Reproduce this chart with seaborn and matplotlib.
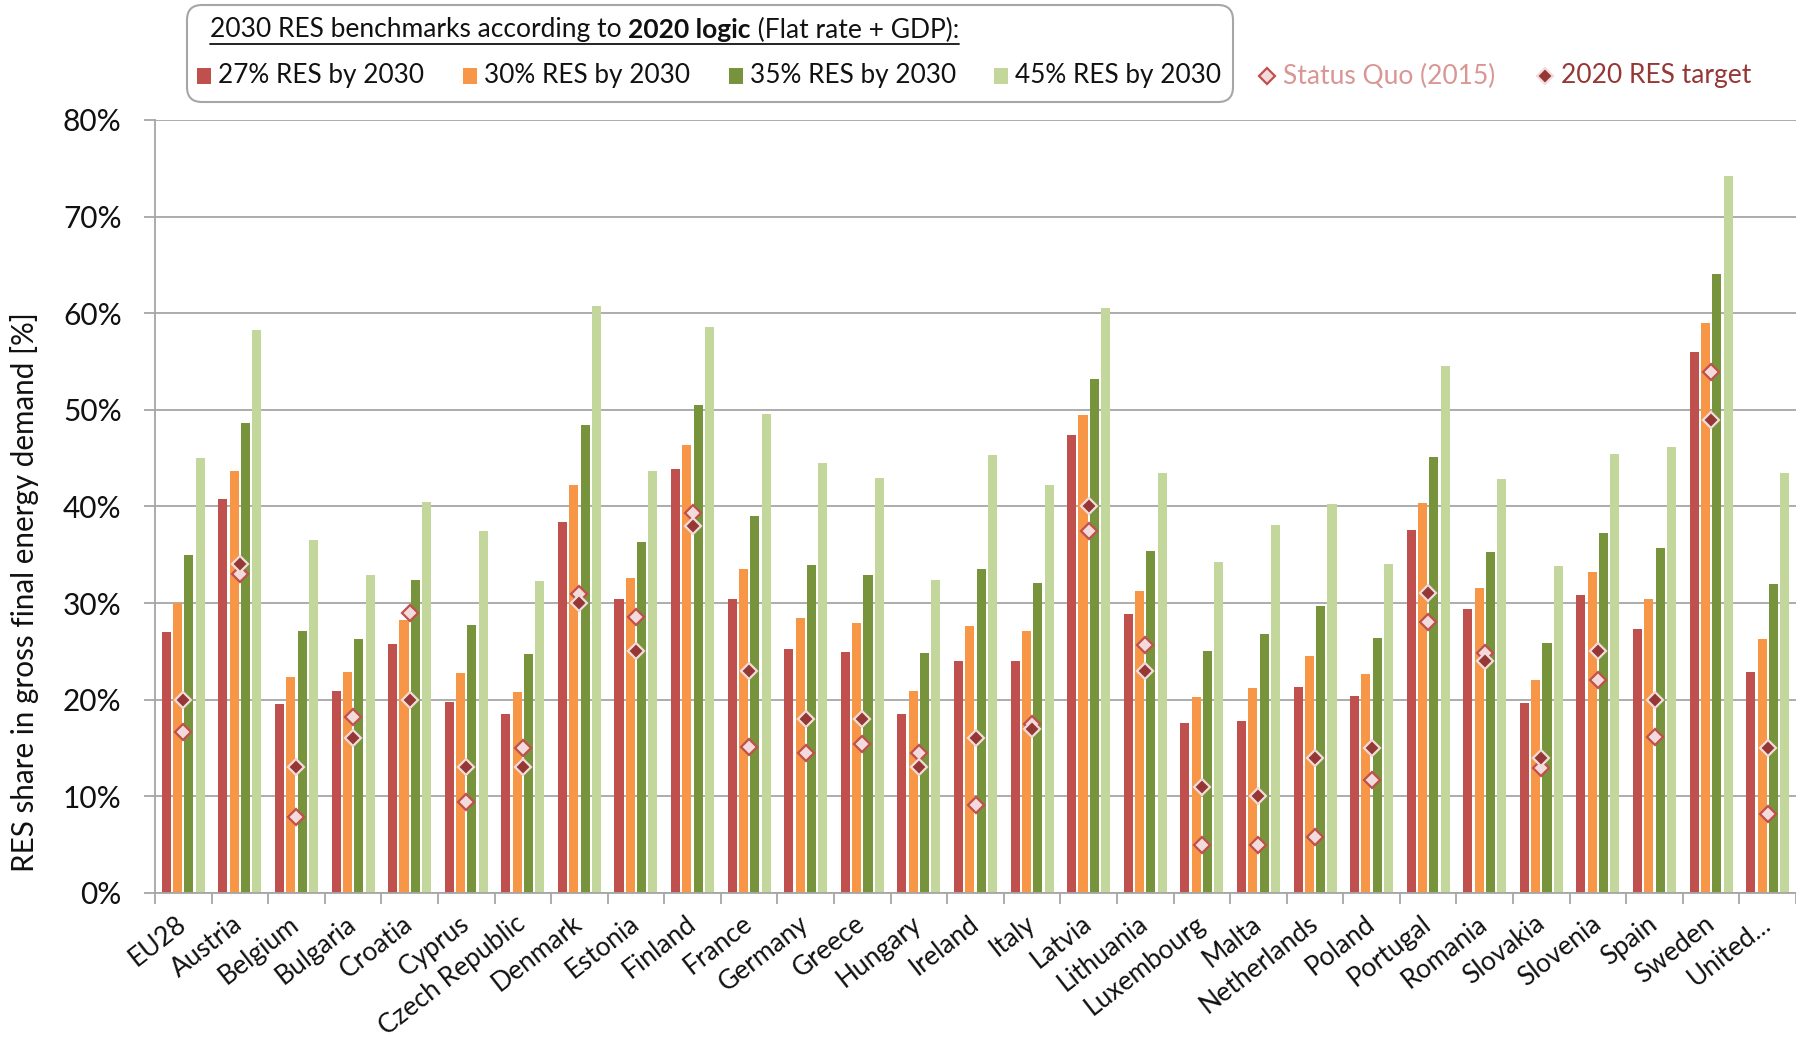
import numpy as np
import pandas as pd
import matplotlib
matplotlib.use("Agg")
import matplotlib.pyplot as plt
import seaborn as sns
from matplotlib.patches import FancyBboxPatch, Rectangle
from matplotlib.lines import Line2D

countries = ["EU28", "Austria", "Belgium", "Bulgaria", "Croatia", "Cyprus",
             "Czech Republic", "Denmark", "Estonia", "Finland", "France", "Germany",
             "Greece", "Hungary", "Ireland", "Italy", "Latvia", "Lithuania",
             "Luxembourg", "Malta", "Netherlands", "Poland", "Portugal", "Romania",
             "Slovakia", "Slovenia", "Spain", "Sweden", "United..."]

res27 = [27.0, 40.8, 19.6, 20.9, 25.8, 19.8, 18.5, 38.4, 30.4, 43.9, 30.4, 25.3, 24.9, 18.5,
         24.0, 24.0, 47.4, 28.9, 17.6, 17.8, 21.3, 20.4, 37.6, 29.4, 19.7, 30.8, 27.3, 56.0, 22.9]
res30 = [30.0, 43.7, 22.4, 22.9, 28.3, 22.8, 20.8, 42.2, 32.6, 46.4, 33.5, 28.5, 27.9, 20.9,
         27.6, 27.1, 49.5, 31.3, 20.3, 21.2, 24.5, 22.7, 40.4, 31.6, 22.0, 33.2, 30.4, 59.0, 26.3]
res35 = [35.0, 48.6, 27.1, 26.3, 32.4, 27.7, 24.7, 48.4, 36.3, 50.5, 39.0, 33.9, 32.9, 24.8,
         33.5, 32.1, 53.2, 35.4, 25.0, 26.8, 29.7, 26.4, 45.1, 35.3, 25.9, 37.3, 35.7, 64.1, 32.0]
res45 = [45.0, 58.3, 36.5, 32.9, 40.5, 37.5, 32.3, 60.8, 43.7, 58.6, 49.6, 44.5, 42.9, 32.4,
         45.3, 42.2, 60.5, 43.5, 34.3, 38.1, 40.3, 34.0, 54.5, 42.8, 33.8, 45.4, 46.2, 74.2, 43.5]
status_quo = [16.7, 33.0, 7.9, 18.2, 29.0, 9.4, 15.0, 30.9, 28.6, 39.3, 15.1, 14.5, 15.4, 14.5,
              9.1, 17.5, 37.5, 25.7, 5.0, 5.0, 5.8, 11.7, 28.0, 24.8, 12.9, 22.0, 16.1, 53.9, 8.2]
target_2020 = [20, 34, 13, 16, 20, 13, 13, 30, 25, 38, 23, 18, 18, 13, 16, 17, 40, 23, 11, 10,
               14, 15, 31, 24, 14, 25, 20, 49, 15]

scenarios = ["27% RES by 2030", "30% RES by 2030", "35% RES by 2030", "45% RES by 2030"]
bar_colors = ["#C0504D", "#F79646", "#77933C", "#C3D69B"]
yticks = [0, 10, 20, 30, 40, 50, 60, 70, 80]

sns.set_theme(style="white")
plt.rcParams['font.family'] = ['Lato', 'DejaVu Sans']

W, H = 1796, 1042
fig = plt.figure(figsize=(W / 100, H / 100), dpi=100)
ax = fig.add_axes([155 / W, 1 - 893 / H, 1 - 155 / W, (893 - 120) / H])

df = pd.DataFrame({"Country": countries, scenarios[0]: res27, scenarios[1]: res30,
                   scenarios[2]: res35, scenarios[3]: res45})
long = df.melt(id_vars="Country", var_name="Scenario", value_name="Value")

sns.barplot(data=long, x="Country", y="Value", hue="Scenario", hue_order=scenarios,
            order=countries, palette=bar_colors, saturation=1, width=0.8, gap=0.2,
            edgecolor="none", legend=False, ax=ax, zorder=2)

sns.pointplot(x=countries, y=status_quo, order=countries, ax=ax, linestyle="none",
              marker="D", color="#C0504D", markersize=8.5, markerfacecolor="#F2DCDB",
              markeredgecolor="#C0504D", markeredgewidth=1.6, errorbar=None, zorder=4)
sns.pointplot(x=countries, y=target_2020, order=countries, ax=ax, linestyle="none",
              marker="D", color="#953735", markersize=8.5, markerfacecolor="#953735",
              markeredgecolor="#F2DCDB", markeredgewidth=1.6, errorbar=None, zorder=5)

ax.set_xlim(-0.5, len(countries) - 0.5)
ax.set_ylim(0, 80)
ax.set_yticks(yticks)
ax.set_yticklabels([f"{v}%" for v in yticks], fontsize=21.5, color="#111111")
ax.yaxis.grid(True, color="#A6A6A6", linewidth=1.3, zorder=0)
ax.set_axisbelow(True)
for s in ["top", "right"]:
    ax.spines[s].set_visible(False)
for s in ["left", "bottom"]:
    ax.spines[s].set_color("#A6A6A6")
    ax.spines[s].set_linewidth(1.3)
ax.tick_params(axis="y", which="major", length=8, width=1.3, color="#A6A6A6", pad=16, left=True)

ax.set_xticks(range(len(countries)))
ax.set_xticklabels(countries, rotation=38, ha="right", va="center", rotation_mode="anchor",
                   fontsize=19, color="#111111")
ax.tick_params(axis="x", which="major", length=0, pad=20)
ax.set_xticks(np.arange(-0.5, len(countries), 1), minor=True)
ax.tick_params(axis="x", which="minor", length=8, width=1.3, color="#A6A6A6", bottom=True)

ax.set_xlabel("")
ax.set_ylabel("")
fig.text(25 / W, 1 - 592 / H, "RES share in gross final energy demand [%]", rotation=90,
         ha="center", va="center", fontsize=21.3, color="#111111")

# Legend box
box = FancyBboxPatch((1.87, (H - 102) / 100), 10.46, 0.97,
                     boxstyle="round,pad=0,rounding_size=0.15",
                     transform=fig.dpi_scale_trans, facecolor="white",
                     edgecolor="#A6A6A6", linewidth=1.5, zorder=10)
fig.add_artist(box)

renderer = fig.canvas.get_renderer()
parts = [("2030 RES benchmarks according to ", "normal"), ("2020 logic", "bold"),
         (" (Flat rate + GDP):", "normal")]
x = 210 / W
ty = 1 - 30 / H
for txt, wgt in parts:
    t = fig.text(x, ty, txt, fontsize=19, fontweight=wgt, ha="left", va="center",
                 color="#111111", zorder=11)
    bb = t.get_window_extent(renderer)
    x += bb.width / W
fig.add_artist(Line2D([210 / W, x], [1 - 44 / H, 1 - 44 / H], color="#111111",
                      linewidth=1.3, transform=fig.transFigure, zorder=11))

key_x = [204, 470, 736, 1001]
ly = 76
for kx, lab, col in zip(key_x, scenarios, bar_colors):
    fig.add_artist(Rectangle(((kx - 7) / W, 1 - (ly + 8) / H), 14 / W, 16 / H,
                             transform=fig.transFigure, facecolor=col, edgecolor="none",
                             zorder=11))
    fig.text((kx + 14) / W, 1 - ly / H, lab, fontsize=18.8, ha="left", va="center",
             color="#111111", zorder=11)

fig.add_artist(Line2D([1267 / W], [1 - ly / H], marker="D", markersize=8,
                      markerfacecolor="#F2DCDB", markeredgecolor="#C0504D",
                      markeredgewidth=1.6, linestyle="none", transform=fig.transFigure))
fig.text(1283 / W, 1 - ly / H, "Status Quo (2015)", fontsize=19, ha="left", va="center",
         color="#D99694")
fig.add_artist(Line2D([1545 / W], [1 - ly / H], marker="D", markersize=8,
                      markerfacecolor="#953735", markeredgecolor="#F2DCDB",
                      markeredgewidth=1.6, linestyle="none", transform=fig.transFigure))
fig.text(1561 / W, 1 - ly / H, "2020 RES target", fontsize=19, ha="left", va="center",
         color="#953735")

fig.savefig("out.png", dpi=100)
